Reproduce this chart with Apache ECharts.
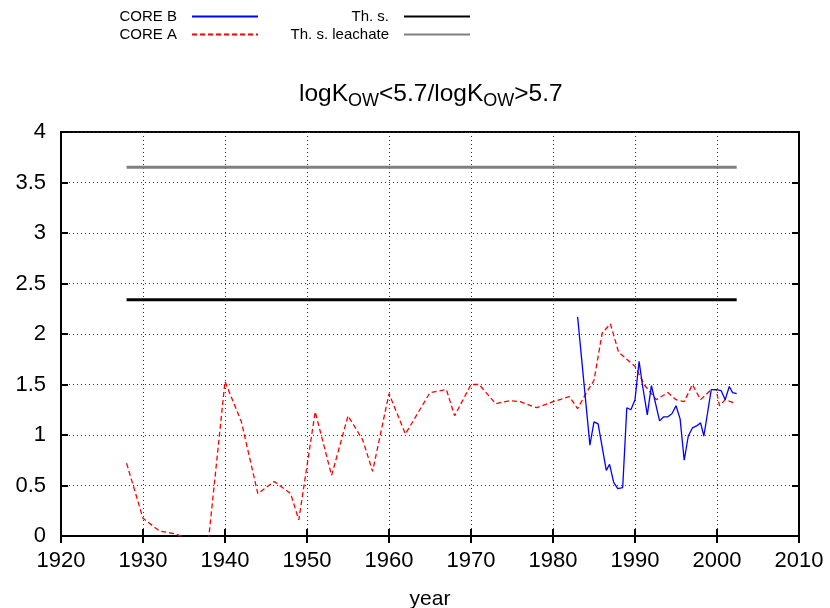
<!DOCTYPE html>
<html>
<head>
<meta charset="utf-8">
<script src="https://cdn.jsdelivr.net/npm/echarts@6/dist/echarts.min.js"></script>
<style>html,body{margin:0;padding:0;background:#fff;}#c{width:830px;height:608px;}</style>
</head>
<body>
<div id="c"></div>
<script>
var coreAYears = [1928,1930,1932,1934,1936,1938,1940,1942,1944,1946,1948,1949,1951,1953,1955,1956.8,1958,1960,1962,1965,1967,1968,1970,1971,1973,1974.7,1976,1978,1980,1982,1983,1984,1985,1986,1987,1988,1990,1991.2,1992.6,1994,1995,1996,1997,1998,1999.3,1999.9,2000.3,2001,2002];
var coreAValues = [0.72,0.175,0.05,0.02,-0.05,-0.03,1.53,1.13,0.42,0.54,0.42,0.16,1.23,0.60,1.19,0.95,0.64,1.41,1.01,1.42,1.45,1.19,1.50,1.50,1.31,1.34,1.33,1.27,1.33,1.38,1.26,1.41,1.54,2.01,2.10,1.82,1.68,1.49,1.35,1.42,1.35,1.33,1.50,1.35,1.45,1.45,1.29,1.35,1.32];
var coreBYears = [1983,1984.5,1985,1985.5,1986.5,1986.9,1987.4,1987.9,1988.5,1989,1989.5,1990,1990.5,1990.9,1991.5,1992,1993,1993.5,1994,1994.5,1995,1995.5,1996,1996.5,1997,1997.5,1998,1998.4,1999.3,1999.9,2000.5,2001,2001.5,2001.9,2002.4];
var coreBValues = [2.17,0.90,1.13,1.11,0.65,0.71,0.53,0.47,0.48,1.27,1.25,1.35,1.73,1.50,1.20,1.49,1.14,1.18,1.18,1.21,1.29,1.16,0.75,0.99,1.07,1.09,1.12,0.99,1.45,1.45,1.44,1.35,1.48,1.42,1.41];
var thYears = [1928,2002.4];
var thValues = [2.34,2.34];
var thLeachValues = [3.65,3.65];
var xTicks = [1920,1930,1940,1950,1960,1970,1980,1990,2000,2010];
var yTicks = [0,0.5,1,1.5,2,2.5,3,3.5,4];

function pairs(xs, ys){ return xs.map(function(x,i){ return [x, ys[i]]; }); }

var FONT = 'Liberation Sans, Arial, Helvetica, sans-serif';
var chart = echarts.init(document.getElementById('c'), null, {renderer:'canvas'});

function legendFor(name, right, top){
  return {
    data:[name], right:right, top:top, orient:'horizontal', align:'right',
    itemWidth:66, itemHeight:10, padding:0, itemGap:0, selectedMode:false,
    itemStyle:{opacity:0},
    textStyle:{fontFamily:FONT, fontSize:15, color:'#000', padding:[0,10,0,0]}
  };
}

chart.setOption({
  animation:false,
  backgroundColor:'#fff',
  title:{
    text:'{a|logK}{s|OW}{a|<5.7/logK}{s|OW}{a|>5.7}',
    left:299, top:82, padding:0,
    textStyle:{rich:{
      a:{fontFamily:FONT, fontSize:24.5, fontWeight:'normal', color:'#000', verticalAlign:'top', lineHeight:27},
      s:{fontFamily:FONT, fontSize:18, fontWeight:'normal', color:'#000', verticalAlign:'top', lineHeight:27, padding:[10,0,0,0]}
    }}
  },
  legend:[
    legendFor('CORE B', 571, 9),
    legendFor('CORE A', 571, 27),
    legendFor('Th. s.', 359, 9),
    legendFor('Th. s. leachate', 359, 27)
  ],
  grid:{left:61, right:31, top:132, bottom:72, show:true, borderColor:'#000', borderWidth:2, containLabel:false, outerBoundsMode:'none'},
  xAxis:[
    {type:'value', min:1920, max:2010, interval:10, position:'bottom',
     name:'year', nameLocation:'middle', nameGap:53,
     nameTextStyle:{fontFamily:FONT, fontSize:21, color:'#000'},
     axisLine:{show:true, lineStyle:{color:'#000', width:2}},
     axisTick:{show:true, inside:true, length:7, lineStyle:{color:'#000', width:2}},
     axisLabel:{fontFamily:FONT, fontSize:22, color:'#000', margin:14, formatter:function(v){return String(v);}},
     splitLine:{show:true, lineStyle:{color:'#333', type:[1,3], width:1}}},
    {type:'value', min:1920, max:2010, interval:10, position:'top',
     axisLine:{show:true, lineStyle:{color:'#000', width:2}},
     axisTick:{show:true, inside:true, length:7, lineStyle:{color:'#000', width:2}},
     axisLabel:{show:false}, splitLine:{show:false}}
  ],
  yAxis:[
    {type:'value', min:0, max:4, interval:0.5, position:'left',
     axisLine:{show:true, lineStyle:{color:'#000', width:2}},
     axisTick:{show:true, inside:true, length:7, lineStyle:{color:'#000', width:2}},
     axisLabel:{fontFamily:FONT, fontSize:22, color:'#000', margin:15, formatter:function(v){return String(v);}},
     splitLine:{show:true, lineStyle:{color:'#333', type:[1,3], width:1}}},
    {type:'value', min:0, max:4, interval:0.5, position:'right',
     axisLine:{show:true, lineStyle:{color:'#000', width:2}},
     axisTick:{show:true, inside:true, length:7, lineStyle:{color:'#000', width:2}},
     axisLabel:{show:false}, splitLine:{show:false}}
  ],
  series:[
    {name:'CORE B', type:'line', data:pairs(coreBYears, coreBValues), symbol:'none', clip:true,
     lineStyle:{color:'#0000ff', width:1.3}, itemStyle:{color:'#0000ff'}, z:5},
    {name:'CORE A', type:'line', data:pairs(coreAYears, coreAValues), symbol:'none', clip:true,
     lineStyle:{color:'#ff0000', width:1.3, type:[5,3]}, itemStyle:{color:'#ff0000'}, z:4},
    {name:'Th. s.', type:'line', data:pairs(thYears, thValues), symbol:'none',
     lineStyle:{color:'#000', width:3}, itemStyle:{color:'#000'}, z:3},
    {name:'Th. s. leachate', type:'line', data:pairs(thYears, thLeachValues), symbol:'none',
     lineStyle:{color:'#808080', width:3}, itemStyle:{color:'#808080'}, z:3}
  ]
});
</script>
</body>
</html>
